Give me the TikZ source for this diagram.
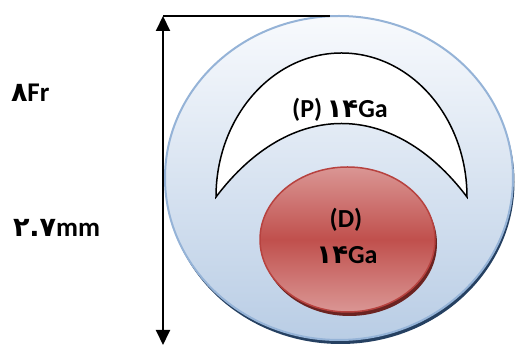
\documentclass[tikz,border=0pt]{standalone}
\usepackage{fontspec}
\setmainfont{Carlito}
\newfontfamily\fadigits{DejaVu Sans}
\usetikzlibrary{arrows.meta}
\definecolor{skyedge}{HTML}{95B3D7}
\definecolor{skytop}{HTML}{F8FAFD}
\definecolor{skybot}{HTML}{B9CDE5}
\definecolor{navy}{HTML}{254061}
\definecolor{roselt}{HTML}{DA9694}
\definecolor{rosedk}{HTML}{C0504D}
\definecolor{roseedge}{HTML}{B7423F}
\definecolor{maroon}{HTML}{6B2321}
\newcommand{\fa}[1]{{\fadigits #1}}

\begin{document}
\begin{tikzpicture}[x=1pt, y=1pt, >={Triangle[length=15pt, width=14pt]}, line width=2pt,
  lbl/.style={font=\bfseries\fontsize{27}{32}\selectfont, inner sep=0pt},
  inlbl/.style={font=\bfseries\fontsize{26}{30}\selectfont, inner sep=0pt}]

\useasboundingbox (0,0) rectangle (515,347);

% Outer disk with its shadow
\fill[navy] (340.5,165) ellipse [x radius=174, y radius=162];
\shade[top color=skytop, bottom color=skybot, draw=skyedge] (339,169) ellipse [x radius=174, y radius=162];

% Core disk with its shadow
\fill[maroon] (349.5,103.5) ellipse [x radius=87.5, y radius=72.5];
\path[top color=roselt, bottom color=roselt, middle color=rosedk, draw=roseedge, line width=1.5pt]
  (347.5,107.5) ellipse [x radius=87.5, y radius=72.5];

% Crescent
\draw[fill=white, line width=1.5pt] (216,150)
  arc[start angle=180, end angle=0, x radius=125.5, y radius=144]
  .. controls (393,248) and (290,248) .. cycle;

% Labels
\node[inlbl] (plabel) at (340,237) {(P)\,\fa{۱۴}Ga};
\node[inlbl] (dlabel) at (346,127) {(D)};
\node[inlbl] (galabel) at (347,92) {\fa{۱۴}Ga};
\node[lbl, anchor=west] (frlabel) at (10,254) {\fa{۸}Fr};
\node[lbl, anchor=west] (mmlabel) at (12,119) {\fa{۲.۷}mm};

% Dimension arrow
\coordinate (dimtop) at (163,331);
\coordinate (dimbot) at (163,2);
\coordinate (rimtop) at (330,331);
\draw[<->] (dimbot) -- (dimtop);
\draw (dimtop) -- (rimtop);

\end{tikzpicture}
\end{document}
